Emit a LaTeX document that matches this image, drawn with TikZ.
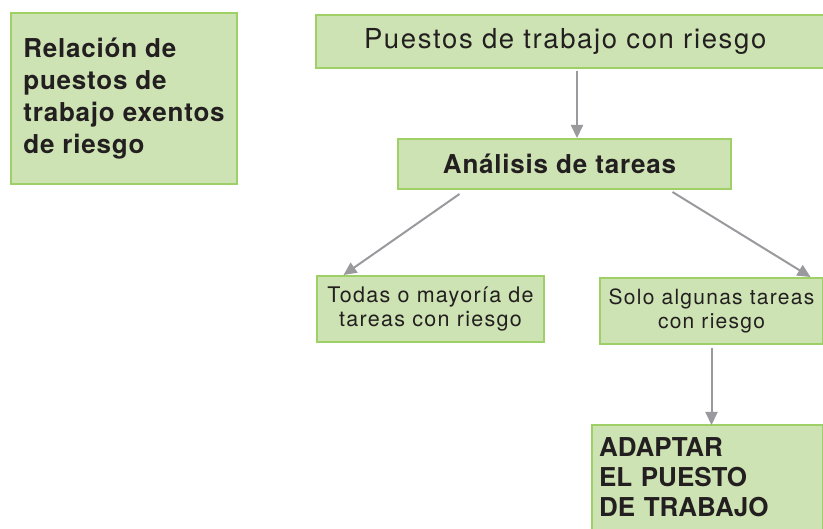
\documentclass[tikz,border=0pt]{standalone}
\usepackage{fontspec}
\setmainfont{TeX Gyre Heros}
\usetikzlibrary{arrows.meta}
\definecolor{boxfill}{HTML}{CDE3B3}
\definecolor{boxline}{HTML}{9FD067}
\definecolor{arrowgray}{HTML}{9A9A9E}
\definecolor{ink}{HTML}{231F20}
\newfontfamily\wideface[LetterSpace=6]{TeX Gyre Heros}
\newfontfamily\widebold[LetterSpace=3,BoldFont={* Bold}]{TeX Gyre Heros}

\begin{document}
\begin{tikzpicture}[x=1pt,y=-1pt,
    box/.style={draw=boxline,fill=boxfill,line width=2pt,text=ink,inner sep=0pt},
    link/.style={draw=arrowgray,line width=2pt,-{Triangle[length=13pt,width=12pt]}}]
  \useasboundingbox (0,0) rectangle (823,529);
  \node[box,anchor=north west,minimum width=226pt,minimum height=171pt,align=left,
    font=\widebold\bfseries\fontsize{26}{32}\selectfont] (exentos) at (10,12)
    {Relación de\\puestos de\\trabajo exentos\\de riesgo};
  \node[box,anchor=north west,minimum height=53pt,inner xsep=48pt,text width=472pt,align=left,
    font=\wideface\fontsize{27.5}{30}\selectfont] (puestos) at (315,14) {Puestos de trabajo con riesgo};
  \node[box,anchor=north west,minimum width=333pt,minimum height=50pt,
    font=\widebold\bfseries\fontsize{26}{28}\selectfont] (analisis) at (397,138)
    {Análisis de tareas\hspace*{10pt}};
  \node[box,anchor=north west,minimum width=227pt,minimum height=66pt,align=center,
    font=\wideface\fontsize{21.5}{24}\selectfont] (todas) at (316,275) {Todas o mayoría de\\tareas con riesgo};
  \node[box,anchor=north west,minimum width=223pt,minimum height=66pt,align=center,
    font=\wideface\fontsize{21}{24}\selectfont] (solo) at (599,277) {Solo algunas tareas\\con riesgo};
  \node[box,anchor=north west,inner xsep=7pt,inner ysep=13pt,text width=217pt,align=left,
    font=\bfseries\fontsize{26}{30}\selectfont] (adaptar) at (591,424)
    {ADAPTAR\\EL PUESTO\\DE TRABAJO\rule[-40pt]{0pt}{0pt}};
  % flechas
  \draw[link] ([xshift=12.5pt,yshift=-2pt]analisis.north |- puestos.south) -- ([xshift=12.5pt]analisis.north);
  \draw[link] ([xshift=-105pt,yshift=-4pt]analisis.south) -- ([xshift=-87pt]todas.north);
  \draw[link] ([xshift=108pt,yshift=-2pt]analisis.south) -- ([xshift=99pt]solo.north);
  \draw[link] ([yshift=-3pt]solo.south) -- ([yshift=-1pt]solo.south |- adaptar.north);
\end{tikzpicture}
\end{document}
